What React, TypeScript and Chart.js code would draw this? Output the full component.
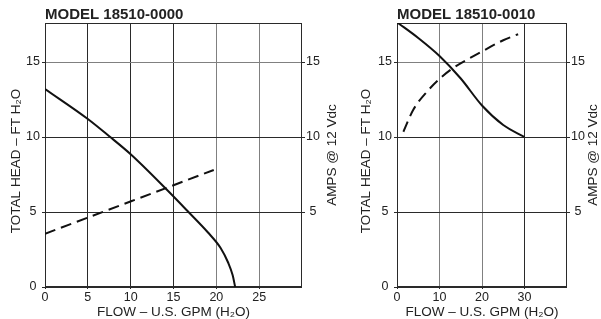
import { useEffect, useRef } from 'react';
import { Chart, registerables } from 'chart.js';

Chart.register(...registerables);

// ---- data ----
const leftModel = 'MODEL 18510-0000';
const rightModel = 'MODEL 18510-0010';
const xTitle = 'FLOW – U.S. GPM (H₂O)';
const yTitle = 'TOTAL HEAD – FT H₂O';
const y1Title = 'AMPS @ 12 Vdc';

const leftFlowTicks = [0, 5, 10, 15, 20, 25];
const rightFlowTicks = [0, 10, 20, 30];
const headTicks = [0, 5, 10, 15];
const ampTicks = [5, 10, 15];

const leftHeadFlow = [0, 5, 7.5, 10, 14.2, 16.75, 19, 20.5, 21.4, 21.9, 22.2];
const leftHeadFt = [13.2, 11.2, 10.05, 8.85, 6.5, 5, 3.65, 2.6, 1.6, 0.8, 0];
const leftAmpFlow = [0, 19.7];
const leftAmps = [3.55, 7.8];

const rightHeadFlow = [0, 5, 10, 15, 20, 25, 30];
const rightHeadFt = [17.65, 16.6, 15.4, 13.9, 12.1, 10.8, 10.0];
const rightAmpFlow = [1.5, 3.8, 7.3, 9.7, 12.7, 20, 25, 28.5];
const rightAmps = [10.35, 11.8, 13.1, 13.8, 14.5, 15.7, 16.45, 16.85];

const FONT = '"Liberation Sans", Arial, Helvetica, sans-serif';
const TEXT = '#222';
const DARK = '#2a2a2a';
const GRAY = '#808080';

const titlesPlugin = {
  id: 'titles',
  afterDraw(chart: any, _args: any, o: any) {
    const { ctx, chartArea } = chart;
    ctx.save();
    ctx.fillStyle = TEXT;
    ctx.font = `bold 15px ${FONT}`;
    ctx.textAlign = 'left';
    ctx.textBaseline = 'alphabetic';
    ctx.fillText(o.model, chartArea.left, 19);
    ctx.font = `13.5px ${FONT}`;
    ctx.textAlign = 'center';
    ctx.textBaseline = 'middle';
    ctx.save();
    ctx.translate(o.leftX, o.leftY);
    ctx.rotate(-Math.PI / 2);
    ctx.fillText(yTitle, 0, 0);
    ctx.restore();
    ctx.save();
    ctx.translate(o.rightX, o.rightY);
    ctx.rotate(-Math.PI / 2);
    ctx.fillText(y1Title, 0, 0);
    ctx.restore();
    ctx.restore();
  },
};

const framePlugin = {
  id: 'frame',
  beforeDatasetsDraw(chart: any) {
    const { ctx, chartArea } = chart;
    ctx.save();
    ctx.strokeStyle = DARK;
    ctx.lineWidth = 1;
    const l = Math.round(chartArea.left) + 0.5;
    const t = Math.round(chartArea.top) + 0.5;
    const r = Math.round(chartArea.right) - 0.5;
    const b = Math.round(chartArea.bottom) - 0.5;
    ctx.strokeRect(l, t, r - l, b - t);
    ctx.restore();
  },
};

type P = {
  model: string;
  headX: number[];
  headY: number[];
  ampX: number[];
  ampY: number[];
  xMax: number;
  xTicks: number[];
  xGray: number[];
  leftW: number;
  rightW: number;
  leftX: number;
  rightX: number;
  width: number;
};

function PumpChart(p: P) {
  const ref = useRef<HTMLCanvasElement>(null);
  useEffect(() => {
    const tickFont = { family: FONT, size: 12.5 };
    const gridColor = (gray: number[]) => (c: any) =>
      gray.includes(c.tick?.value) ? GRAY : DARK;
    const chart = new Chart(ref.current!, {
      type: 'line',
      data: {
        datasets: [
          {
            data: p.headX.map((x, i) => ({ x, y: p.headY[i] })),
            borderColor: '#111',
            borderWidth: 2,
            pointRadius: 0,
            cubicInterpolationMode: 'monotone',
            fill: false,
            yAxisID: 'y',
          },
          {
            data: p.ampX.map((x, i) => ({ x, y: p.ampY[i] })),
            borderColor: '#111',
            borderWidth: 2,
            borderDash: [11, 6],
            pointRadius: 0,
            cubicInterpolationMode: 'monotone',
            fill: false,
            yAxisID: 'y1',
          },
        ] as any,
      },
      options: {
        animation: false,
        responsive: false,
        layout: { padding: { top: 23, left: 0, right: 0, bottom: 0 } },
        plugins: {
          legend: { display: false },
          tooltip: { enabled: false },
          titles: {
            model: p.model,
            leftX: p.leftX,
            leftY: 161,
            rightX: p.rightX,
            rightY: 155,
          },
        } as any,
        scales: {
          x: {
            type: 'linear',
            min: 0,
            max: p.xMax,
            afterBuildTicks: (s: any) => {
              s.ticks = p.xTicks.map((v) => ({ value: v }));
            },
            afterFit: (s: any) => {
              s.height = 32;
            },
            grid: {
              color: gridColor(p.xGray),
              lineWidth: 1,
              tickLength: 2,
              tickColor: DARK,
            },
            border: { display: false },
            ticks: { font: tickFont, color: TEXT, padding: 1, maxRotation: 0 },
            title: {
              display: true,
              text: xTitle,
              color: TEXT,
              font: { family: FONT, size: 13.5, lineHeight: 1 },
              padding: 0,
            },
          },
          y: {
            type: 'linear',
            position: 'left',
            min: 0,
            max: 17.6,
            afterBuildTicks: (s: any) => {
              s.ticks = headTicks.map((v) => ({ value: v }));
            },
            afterFit: (s: any) => {
              s.width = p.leftW;
            },
            grid: {
              color: gridColor([15]),
              lineWidth: 1,
              tickLength: 3,
              tickColor: DARK,
            },
            border: { display: false },
            ticks: { font: tickFont, color: TEXT, padding: 2, crossAlign: 'center' },
          },
          y1: {
            type: 'linear',
            position: 'right',
            min: 0,
            max: 17.6,
            afterBuildTicks: (s: any) => {
              s.ticks = ampTicks.map((v) => ({ value: v }));
            },
            afterFit: (s: any) => {
              s.width = p.rightW;
            },
            grid: {
              drawOnChartArea: false,
              tickLength: 3,
              tickColor: DARK,
            },
            border: { display: false },
            ticks: { font: tickFont, color: TEXT, padding: 1, crossAlign: 'center' },
          },
        },
      } as any,
      plugins: [framePlugin, titlesPlugin],
    });
    return () => chart.destroy();
  }, []);
  return <canvas ref={ref} width={p.width} height={319} style={{ display: 'block' }} />;
}

export default function App() {
  return (
    <div style={{ position: 'fixed', left: 0, top: 0, width: 601, height: 319, background: '#fff' }}>
      <div style={{ position: 'absolute', left: 0, top: 0 }}>
        <PumpChart
          model={leftModel}
          headX={leftHeadFlow}
          headY={leftHeadFt}
          ampX={leftAmpFlow}
          ampY={leftAmps}
          xMax={30}
          xTicks={leftFlowTicks}
          xGray={[20, 25]}
          leftW={45}
          rightW={43}
          leftX={16}
          rightX={332}
          width={345}
        />
      </div>
      <div style={{ position: 'absolute', left: 345, top: 0 }}>
        <PumpChart
          model={rightModel}
          headX={rightHeadFlow}
          headY={rightHeadFt}
          ampX={rightAmpFlow}
          ampY={rightAmps}
          xMax={40}
          xTicks={rightFlowTicks}
          xGray={[10, 20]}
          leftW={52}
          rightW={34}
          leftX={21}
          rightX={248}
          width={256}
        />
      </div>
    </div>
  );
}
